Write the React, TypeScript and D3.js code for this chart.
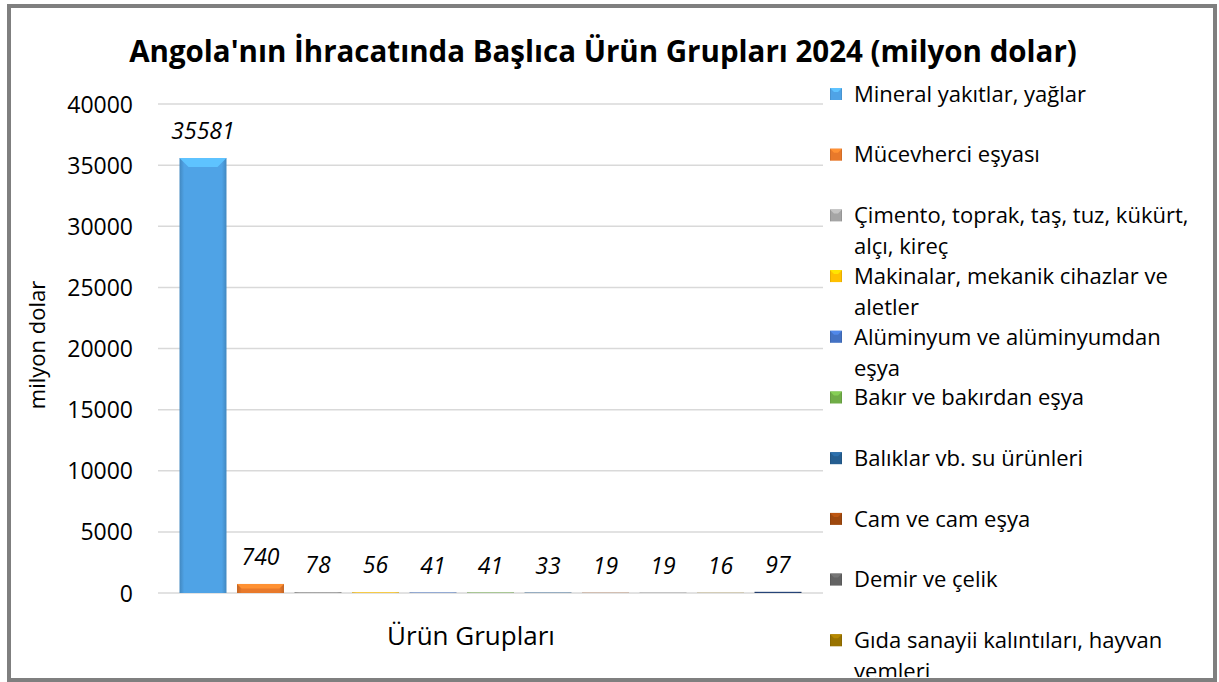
import { useEffect, useRef } from 'react';
import * as d3 from 'd3';

const categories = [
    'Mineral yakıtlar, yağlar',
    'Mücevherci eşyası',
    'Çimento, toprak, taş, tuz, kükürt, alçı, kireç',
    'Makinalar, mekanik cihazlar ve aletler',
    'Alüminyum ve alüminyumdan eşya',
    'Bakır ve bakırdan eşya',
    'Balıklar vb. su ürünleri',
    'Cam ve cam eşya',
    'Demir ve çelik',
    'Gıda sanayii kalıntıları, hayvan yemleri',
    'Diğer'
];
const values = [35581, 740, 78, 56, 41, 41, 33, 19, 19, 16, 97];
const yTicks = [0, 5000, 10000, 15000, 20000, 25000, 30000, 35000, 40000];

const colors = [
    '#4fa3e6',
    '#e8792b',
    '#a5a5a5',
    '#ffc000',
    '#4472c4',
    '#70ad47',
    '#255e91',
    '#9e480e',
    '#636363',
    '#997300',
    '#264478'
];

const title = "Angola'nın İhracatında Başlıca Ürün Grupları 2024 (milyon dolar)";
const FONT = '"Open Sans", "Noto Sans", sans-serif';

const width = 1219;
const height = 682;
// plot area
const [pl, pr, pt, pb] = [158, 823, 104, 593];

export default function App() {
    const ref = useRef<SVGSVGElement | null>(null);

    useEffect(() => {
        const svg = d3.select(ref.current);
        svg.selectAll('*').remove();

        const defs = svg.append('defs');
        colors.forEach((c, i) => {
            const g = defs.append('linearGradient').attr('id', `bar-grad-${i}`).attr('x1', 0).attr('x2', 1).attr('y1', 0).attr('y2', 0);
            const dark = d3.color(c)!.darker(0.5).formatHex();
            g.append('stop').attr('offset', '0%').attr('stop-color', dark);
            g.append('stop').attr('offset', '10%').attr('stop-color', c);
            g.append('stop').attr('offset', '90%').attr('stop-color', c);
            g.append('stop').attr('offset', '100%').attr('stop-color', dark);
        });
        defs.append('clipPath').attr('id', 'frame-clip').append('rect').attr('x', 11).attr('y', 8).attr('width', 1202).attr('height', 669);

        svg.append('rect').attr('width', width).attr('height', height).attr('fill', '#fff');

        // frame
        svg.append('rect')
            .attr('x', 9)
            .attr('y', 6)
            .attr('width', 1206)
            .attr('height', 674)
            .attr('fill', 'none')
            .attr('stroke', '#7f7f7f')
            .attr('stroke-width', 4);

        const yScale = d3.scaleLinear().domain([0, 40000]).range([pb, pt]);
        const xScale = d3
            .scaleBand<number>()
            .domain(d3.range(values.length))
            .range([pl, pr])
            .paddingInner(0.183)
            .paddingOuter(0.374);

        // grid
        svg.append('g')
            .selectAll('line')
            .data(yTicks)
            .join('line')
            .attr('x1', pl)
            .attr('x2', pr)
            .attr('y1', (d) => yScale(d))
            .attr('y2', (d) => yScale(d))
            .attr('stroke', '#d9d9d9')
            .attr('stroke-width', 1.5);

        // y axis labels
        const yAxis = d3.axisLeft(yScale).tickValues(yTicks).tickSize(0).tickPadding(0).tickFormat((d) => String(d));
        svg.append('g')
            .attr('transform', 'translate(133,0)')
            .call(yAxis)
            .call((g) => g.select('.domain').remove())
            .call((g) =>
                g.selectAll('text').attr('font-family', FONT).attr('font-size', 23).attr('fill', '#000').attr('dy', '0.35em')
            );

        // bars
        const bars = svg.append('g');
        values.forEach((v, i) => {
            const x0 = xScale(i)!;
            const bw = xScale.bandwidth();
            const y0 = yScale(v);
            const h = pb - y0;
            bars.append('rect')
                .attr('x', x0)
                .attr('y', y0)
                .attr('width', bw)
                .attr('height', h)
                .attr('fill', `url(#bar-grad-${i})`);
            const b = Math.min(9, h / 2);
            if (b > 2) {
                bars.append('path')
                    .attr('d', `M${x0},${y0}L${x0 + bw},${y0}L${x0 + bw - b},${y0 + b}L${x0 + b},${y0 + b}Z`)
                    .attr('fill', d3.color(colors[i])!.brighter(0.5).formatHex());
            }
            bars.append('text')
                .attr('x', x0 + bw / 2)
                .attr('y', y0 - 27)
                .attr('dy', '0.35em')
                .attr('text-anchor', 'middle')
                .attr('font-family', FONT)
                .attr('font-style', 'italic')
                .attr('font-size', 23)
                .text(String(v));
        });

        // title
        svg.append('text')
            .attr('x', 603)
            .attr('y', 52)
            .attr('dy', '0.35em')
            .attr('text-anchor', 'middle')
            .attr('font-family', FONT)
            .attr('font-weight', 'bold')
            .attr('font-size', 29.5)
            .text(title);

        // axis titles
        svg.append('text')
            .attr('transform', 'translate(37,345) rotate(-90)')
            .attr('dy', '0.35em')
            .attr('text-anchor', 'middle')
            .attr('font-family', FONT)
            .attr('font-size', 22)
            .text('milyon dolar');
        svg.append('text')
            .attr('x', 471)
            .attr('y', 636)
            .attr('dy', '0.35em')
            .attr('text-anchor', 'middle')
            .attr('font-family', FONT)
            .attr('font-size', 26)
            .text('Ürün Grupları');

        // legend (wraps long names, clipped by the frame)
        const ctx = document.createElement('canvas').getContext('2d')!;
        ctx.font = `22px ${FONT}`;
        const wrap = (s: string, maxW: number) => {
            const lines: string[] = [];
            let cur = '';
            s.split(' ').forEach((w) => {
                const t = cur ? cur + ' ' + w : w;
                if (cur && ctx.measureText(t).width > maxW) {
                    lines.push(cur);
                    cur = w;
                } else cur = t;
            });
            lines.push(cur);
            return lines;
        };
        const legend = svg.append('g').attr('clip-path', 'url(#frame-clip)');
        categories.forEach((c, i) => {
            const cy = 94 + i * 60.7;
            legend.append('rect')
                .attr('x', 830)
                .attr('y', cy - 6)
                .attr('width', 12)
                .attr('height', 12)
                .attr('fill', `url(#bar-grad-${i})`);
            legend.append('path')
                .attr('d', `M830,${cy - 6}L842,${cy - 6}L838,${cy - 2}L834,${cy - 2}Z`)
                .attr('fill', d3.color(colors[i])!.brighter(0.5).formatHex());
            wrap(c, 345).forEach((line, j) => {
                legend.append('text')
                    .attr('x', 854)
                    .attr('y', cy + j * 31)
                    .attr('dy', '0.35em')
                    .attr('font-family', FONT)
                    .attr('font-size', 22)
                    .text(line);
            });
        });
    }, []);

    return (
        <div style={{ position: 'absolute', left: 0, top: 0 }}>
            <svg ref={ref} width={width} height={height} style={{ display: 'block' }} />
        </div>
    );
}
